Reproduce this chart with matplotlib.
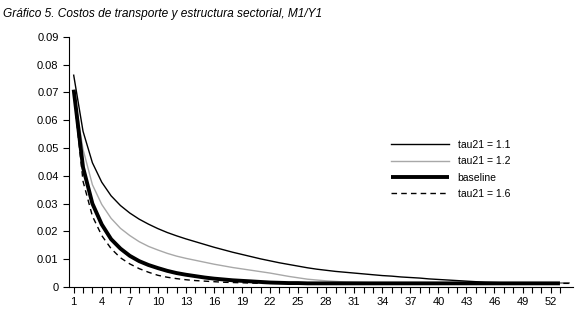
import numpy as np
import matplotlib
matplotlib.use("Agg")
from matplotlib import pyplot as plt

# periods
periods = np.arange(1, 55)

# series (54 periods)
tau11 = [0.0762, 0.0560, 0.0447, 0.0377, 0.0328, 0.0293, 0.0266, 0.0244, 0.0226, 0.0210,
         0.0196, 0.0184, 0.0173, 0.0163, 0.0153, 0.0143, 0.0134, 0.0125, 0.0117, 0.0109,
         0.0101, 0.0094, 0.0087, 0.0081, 0.0075, 0.0069, 0.0064, 0.0060, 0.0056, 0.0053,
         0.0050, 0.0047, 0.0044, 0.0041, 0.0039, 0.0036, 0.0034, 0.0032, 0.0029, 0.0027,
         0.0025, 0.0023, 0.0021, 0.0019, 0.0017, 0.0016, 0.0015, 0.0015, 0.0014, 0.0014,
         0.0014, 0.0014, 0.0014, 0.0014]
tau12 = [0.0705, 0.0495, 0.0368, 0.0297, 0.0247, 0.0211, 0.0185, 0.0163, 0.0146, 0.0133,
         0.0121, 0.0111, 0.0103, 0.0096, 0.0089, 0.0082, 0.0076, 0.0070, 0.0065, 0.0060,
         0.0055, 0.0050, 0.0044, 0.0038, 0.0033, 0.0028, 0.0025, 0.0022, 0.0020, 0.0018,
         0.0017, 0.0016, 0.0015, 0.0015, 0.0015, 0.0014, 0.0014, 0.0014, 0.0014, 0.0014,
         0.0014, 0.0014, 0.0014, 0.0014, 0.0014, 0.0014, 0.0014, 0.0014, 0.0014, 0.0014,
         0.0014, 0.0014, 0.0014, 0.0014]
baseline = [0.0710, 0.0430, 0.0300, 0.0225, 0.0172, 0.0138, 0.0112, 0.0093, 0.0079, 0.0068,
            0.0058, 0.0050, 0.0044, 0.0039, 0.0034, 0.0030, 0.0027, 0.0024, 0.0022, 0.0020,
            0.0018, 0.0016, 0.0015, 0.0014, 0.0014, 0.0013, 0.0013, 0.0013, 0.0013, 0.0013,
            0.0013, 0.0013, 0.0013, 0.0013, 0.0013, 0.0013, 0.0013, 0.0013, 0.0013, 0.0013,
            0.0013, 0.0013, 0.0013, 0.0013, 0.0013, 0.0013, 0.0013, 0.0013, 0.0013, 0.0013,
            0.0013, 0.0013, 0.0013]
tau16 = [0.0695, 0.0380, 0.0255, 0.0185, 0.0138, 0.0105, 0.0083, 0.0066, 0.0053, 0.0042,
         0.0035, 0.0030, 0.0026, 0.0023, 0.0021, 0.0019, 0.0017, 0.0016, 0.0015, 0.0014,
         0.0013, 0.0013, 0.0013, 0.0013, 0.0013, 0.0013, 0.0013, 0.0013, 0.0013, 0.0013,
         0.0013, 0.0013, 0.0013, 0.0013, 0.0013, 0.0013, 0.0013, 0.0013, 0.0013, 0.0013,
         0.0013, 0.0013, 0.0013, 0.0013, 0.0013, 0.0013, 0.0013, 0.0013, 0.0013, 0.0013,
         0.0013, 0.0013, 0.0013, 0.0013]

labels = ['tau21 = 1.1', 'tau21 = 1.2', 'baseline', 'tau21 = 1.6']
title = 'Gráfico 5. Costos de transporte y estructura sectorial, M1/Y1'

plt.rcParams['font.family'] = ['Liberation Sans', 'DejaVu Sans']

fig = plt.figure(figsize=(5.8, 3.15), dpi=100)
ax = fig.add_axes([0.119, 0.089, 0.869, 0.794])

ax.plot(periods, tau11, color='black', lw=1.0, label=labels[0])
ax.plot(periods, tau12, color='#a8a8a8', lw=1.0, label=labels[1])
ax.plot(periods, tau16, color='black', lw=1.0, ls=(0, (4, 3)), label=labels[3])
ax.plot(periods[:len(baseline)], baseline, color='black', lw=2.8, label=labels[2],
        solid_capstyle='butt')

ax.set_xlim(0.5, 54.4)
ax.set_ylim(0, 0.09)
ax.set_yticks(np.arange(0, 0.0901, 0.01))
ax.set_yticklabels(['0'] + ['{:.2f}'.format(v) for v in np.arange(0.01, 0.0901, 0.01)])
ax.set_xticks(np.arange(1, 53, 3))
ax.set_xticks(np.arange(1, 54), minor=True)
ax.tick_params(axis='both', which='both', direction='out', length=4, width=0.8,
               labelsize=8)
ax.tick_params(axis='x', pad=3)
for s in ['top', 'right']:
    ax.spines[s].set_visible(False)
ax.spines['left'].set_linewidth(0.8)
ax.spines['bottom'].set_linewidth(0.8)

h, l = ax.get_legend_handles_labels()
order = [0, 1, 3, 2]
ax.legend([h[i] for i in order], [l[i] for i in order], frameon=False, fontsize=7.5,
          loc='upper left', bbox_to_anchor=(0.62, 0.625), handlelength=5.6,
          labelspacing=0.6, handletextpad=0.8)

fig.text(0.005, 0.975, title, fontsize=8.6, style='italic', va='top', ha='left')

fig.savefig('out.png', dpi=100)
